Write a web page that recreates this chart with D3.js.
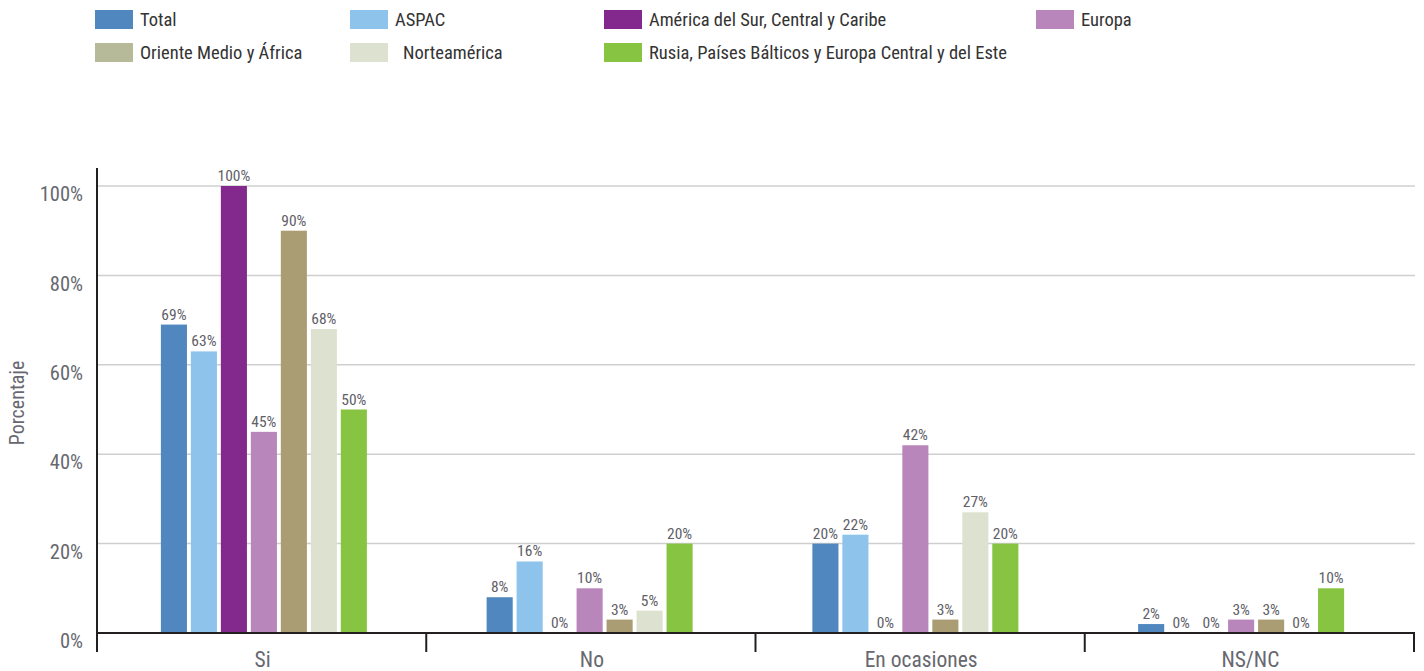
<!DOCTYPE html>
<html>
<head>
<meta charset="utf-8">
<script src="https://cdn.jsdelivr.net/npm/d3@7/dist/d3.min.js"></script>
<style>
  html, body { margin: 0; padding: 0; background: #fff; }
  svg { display: block; }
  .cond { font-family: "Liberation Sans Narrow", "Roboto Condensed", "Roboto", sans-serif; }
</style>
</head>
<body>
<svg id="chart" width="1424" height="671"></svg>
<script>
// Respuestas por región
const categories = ["Si", "No", "En ocasiones", "NS/NC"];
const seriesNames = [
  "Total",
  "ASPAC",
  "América del Sur, Central y Caribe",
  "Europa",
  "Oriente Medio y África",
  "Norteamérica",
  "Rusia, Países Bálticos y Europa Central y del Este"
];
const total    = [69, 8, 20, 2];
const aspac    = [63, 16, 22, 0];
const america  = [100, 0, 0, 0];
const europa   = [45, 10, 42, 3];
const oriente  = [90, 3, 3, 3];
const norte    = [68, 5, 27, 0];
const rusia    = [50, 20, 20, 10];
const yTicks = [0, 20, 40, 60, 80, 100];

const seriesValues = [total, aspac, america, europa, oriente, norte, rusia];
const barColors = ["#5087be", "#8ec4eb", "#83298d", "#b886ba", "#ab9d73", "#dde1cf", "#86c441"];
const swatchColors = ["#5087be", "#8ec4eb", "#83298d", "#b886ba", "#b6ba99", "#dde1cf", "#86c441"];

const svg = d3.select("#chart");
const plotLeft = 97, plotRight = 1414, plotTop = 186, plotBottom = 633;

// category bands on the axis, and a slightly narrower set for the bar clusters
const x0 = d3.scaleBand().domain(categories).range([plotLeft, plotRight]).padding(0);
const xBars = d3.scaleBand().domain(categories).range([101, 1404]).padding(0);
const groupWidth = 206;
const x1 = d3.scaleBand().domain(d3.range(seriesNames.length))
  .range([0, groupWidth]).paddingInner(0.13).paddingOuter(0);
const y = d3.scaleLinear().domain([0, 100]).range([plotBottom, plotTop]);

// Legend
const legendPos = [
  [95, 10], [350, 10], [604, 10], [1036, 10],
  [95, 43], [350, 43], [604, 43]
];
const legend = svg.append("g").attr("class", "cond");
seriesNames.forEach((name, i) => {
  const [lx, ly] = legendPos[i];
  legend.append("rect").attr("x", lx).attr("y", ly).attr("width", 38).attr("height", 19)
    .attr("fill", swatchColors[i]);
  legend.append("text").attr("x", lx + 45 + (i === 5 ? 8 : 0)).attr("y", ly + 9.5)
    .attr("dy", "0.35em").attr("font-size", 18.5).attr("fill", "#333")
    .text(name);
});

// Gridlines
svg.append("g").selectAll("line").data(yTicks.filter(d => d > 0)).join("line")
  .attr("x1", plotLeft).attr("x2", plotRight + 1)
  .attr("y1", d => y(d)).attr("y2", d => y(d))
  .attr("stroke", "#cfcfcf").attr("stroke-width", 1.5);

// Y tick labels
svg.append("g").attr("class", "cond").selectAll("text").data(yTicks).join("text")
  .attr("x", 83).attr("y", d => y(d) + 8)
  .attr("dy", "0.35em").attr("text-anchor", "end")
  .attr("font-size", 20.5).attr("fill", "#67686f")
  .text(d => d + "%");

// Y title
svg.append("text").attr("class", "cond")
  .attr("transform", "translate(24,403) rotate(-90)")
  .attr("text-anchor", "middle").attr("font-size", 20).attr("fill", "#67686f")
  .text("Porcentaje");

// Bars
const groups = svg.append("g").selectAll("g").data(categories).join("g")
  .attr("transform", c => `translate(${xBars(c) + (xBars.bandwidth() - groupWidth) / 2},0)`);

groups.each(function(c, ci) {
  const g = d3.select(this);
  const vals = seriesValues.map((s, si) => ({ si, v: s[ci] }));
  g.selectAll("rect").data(vals).join("rect")
    .attr("x", d => x1(d.si)).attr("width", x1.bandwidth())
    .attr("y", d => y(d.v)).attr("height", d => plotBottom - y(d.v))
    .attr("fill", d => barColors[d.si]);
  g.selectAll("text").data(vals).join("text")
    .attr("class", "cond")
    .attr("x", d => x1(d.si) + x1.bandwidth() / 2)
    .attr("y", d => y(d.v) - 5)
    .attr("text-anchor", "middle").attr("font-size", 15.5).attr("fill", "#5f6068")
    .text(d => d.v + "%");
});

// Axis lines
svg.append("line").attr("x1", plotLeft).attr("x2", plotRight + 1).attr("y1", plotBottom).attr("y2", plotBottom)
  .attr("stroke", "#231f20").attr("stroke-width", 2);
svg.append("line").attr("x1", plotLeft).attr("x2", plotLeft).attr("y1", 168).attr("y2", 652)
  .attr("stroke", "#231f20").attr("stroke-width", 2);

// Category separators
const bounds = categories.map(c => x0(c)).concat([plotRight]);
svg.append("g").selectAll("line").data(bounds.slice(1)).join("line")
  .attr("x1", d => d).attr("x2", d => d).attr("y1", plotBottom).attr("y2", 652)
  .attr("stroke", "#231f20").attr("stroke-width", 2);

// Category labels
svg.append("g").attr("class", "cond").selectAll("text").data(categories).join("text")
  .attr("x", c => x0(c) + x0.bandwidth() / 2 + 1).attr("y", 659)
  .attr("dy", "0.35em").attr("text-anchor", "middle")
  .attr("font-size", 21.5).attr("fill", "#67686f")
  .text(c => c);
</script>
</body>
</html>
